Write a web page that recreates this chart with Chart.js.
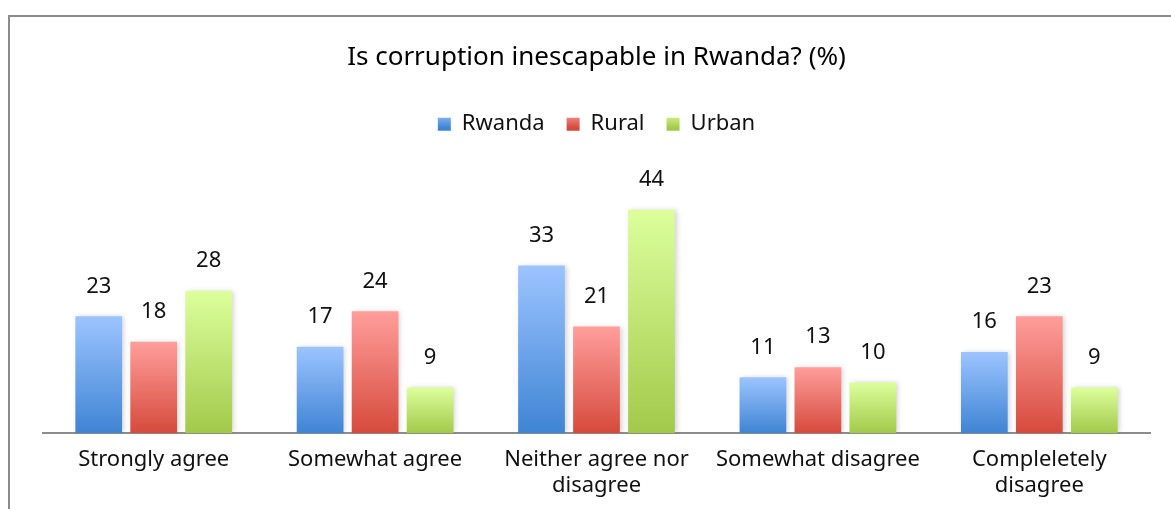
<!DOCTYPE html>
<html lang="en">
<head>
  <meta charset="UTF-8" />
  <title>Is corruption inescapable in Rwanda?</title>
  <script src="https://cdn.jsdelivr.net/npm/chart.js"></script>
  <style>
    html, body { margin: 0; padding: 0; background: #fff; overflow: hidden; }
    #frame { position: absolute; left: 8px; top: 15px; width: 1300px; height: 600px;
             border-left: 2px solid #8c8c8c; border-top: 2px solid #8c8c8c; }
    #wrap { position: absolute; left: 0; top: 0; width: 1171px; height: 509px; }
  </style>
</head>
<body>
  <div id="frame"></div>
  <div id="wrap"><canvas id="corruptionChart"></canvas></div>

  <script>
    const categories = [
      "Strongly agree",
      "Somewhat agree",
      ["Neither agree nor", "disagree"],
      "Somewhat disagree",
      ["Compleletely", "disagree"]
    ];
    const rwanda = [23, 17, 33, 11, 16];
    const rural  = [18, 24, 21, 13, 23];
    const urban  = [28, 9, 44, 10, 9];

    const FONT = "'Noto Sans', sans-serif";

    // light top -> dark bottom, per bar
    function barGradient(light, dark) {
      return (c) => {
        const chart = c.chart;
        if (!chart.chartArea || c.type !== 'data') return dark;
        const y = chart.scales.y;
        const top = y.getPixelForValue(c.raw);
        const bottom = y.getPixelForValue(0);
        if (!isFinite(top) || top === bottom) return dark;
        const g = chart.ctx.createLinearGradient(0, top, 0, bottom);
        g.addColorStop(0, light);
        g.addColorStop(1, dark);
        return g;
      };
    }

    const valueLabels = {
      id: 'valueLabels',
      afterDatasetsDraw(chart) {
        const ctx = chart.ctx;
        ctx.save();
        ctx.font = "22px " + FONT;
        ctx.fillStyle = "#111";
        ctx.textAlign = "center";
        ctx.textBaseline = "middle";
        chart.data.datasets.forEach((ds, i) => {
          chart.getDatasetMeta(i).data.forEach((bar, j) => {
            ctx.fillText(ds.data[j], bar.x, bar.y - 30);
          });
        });
        ctx.restore();
      }
    };

    const barShadow = {
      id: 'barShadow',
      beforeDatasetsDraw(chart) {
        const ctx = chart.ctx;
        ctx.save();
        ctx.shadowColor = "rgba(0,0,0,0.18)";
        ctx.shadowBlur = 5;
        ctx.shadowOffsetX = 2;
        ctx.shadowOffsetY = 0;
      },
      afterDatasetsDraw(chart) {
        chart.ctx.restore();
      }
    };

    // extra room between legend and bars
    const legendGap = {
      id: 'legendGap',
      beforeLayout(chart) {
        const lg = chart.legend;
        if (lg && !lg._gapDone) {
          const fit = lg.fit;
          lg.fit = function () { fit.call(this); this.height += 34; };
          lg._gapDone = true;
        }
      }
    };

    const ctx = document.getElementById("corruptionChart").getContext("2d");
    new Chart(ctx, {
      type: 'bar',
      data: {
        labels: categories,
        datasets: [
          { label: 'Rwanda', data: rwanda, backgroundColor: barGradient('#9cc4ff', '#3f84d4') },
          { label: 'Rural',  data: rural,  backgroundColor: barGradient('#ff9e9b', '#d64a3c') },
          { label: 'Urban',  data: urban,  backgroundColor: barGradient('#dcff9c', '#a3c94a') }
        ]
      },
      options: {
        responsive: true,
        maintainAspectRatio: false,
        animation: false,
        events: [],
        categoryPercentage: 0.745,
        barPercentage: 0.85,
        layout: { padding: { left: 43, right: 21, top: 0, bottom: 5 } },
        plugins: {
          title: {
            display: true,
            text: 'Is corruption inescapable in Rwanda? (%)',
            color: '#000',
            font: { family: FONT, size: 26, weight: 'normal' },
            padding: { top: 42, bottom: 18 }
          },
          legend: {
            display: true,
            labels: {
              color: '#111',
              font: { family: FONT, size: 22 },
              boxWidth: 13,
              boxHeight: 13,
              padding: 22,
              generateLabels(chart) {
                const cols = [['#9cc4ff', '#3f84d4'], ['#ff9e9b', '#d64a3c'], ['#dcff9c', '#a3c94a']];
                return chart.data.datasets.map((ds, i) => {
                  const g = chart.ctx.createLinearGradient(0, 112, 0, 128);
                  g.addColorStop(0, cols[i][0]);
                  g.addColorStop(1, cols[i][1]);
                  return { text: ds.label, fillStyle: g, strokeStyle: g, lineWidth: 0, datasetIndex: i, fontColor: '#111' };
                });
              }
            }
          },
          tooltip: { enabled: false }
        },
        scales: {
          x: {
            grid: { display: false },
            border: { display: true, color: '#8c8c8c', width: 2 },
            ticks: {
              color: '#111',
              font: { family: FONT, size: 22, lineHeight: 1.2 },
              padding: 5,
              maxRotation: 0,
              autoSkip: false
            }
          },
          y: {
            display: false,
            min: 0,
            max: 50
          }
        }
      },
      plugins: [legendGap, barShadow, valueLabels]
    });
  </script>
</body>
</html>
